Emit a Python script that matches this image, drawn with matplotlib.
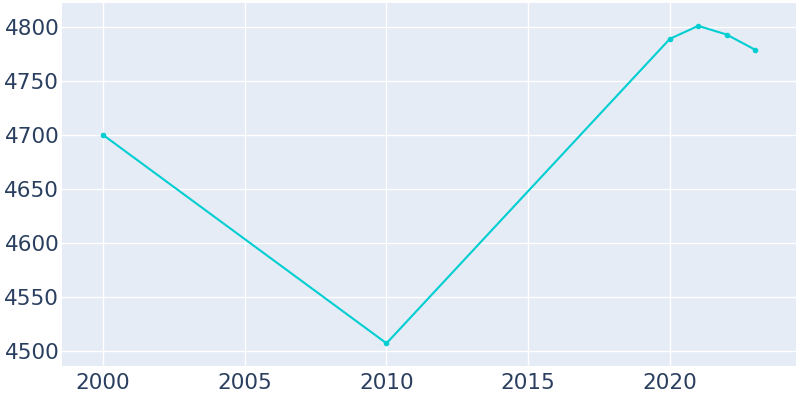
import matplotlib
matplotlib.use("Agg")
import matplotlib.pyplot as plt

# Population by year
years = [2000, 2010, 2020, 2021, 2022, 2023]
population = [4700, 4507, 4789, 4801, 4793, 4779]

x_ticks = [2000, 2005, 2010, 2015, 2020]
y_ticks = [4500, 4550, 4600, 4650, 4700, 4750, 4800]

fig = plt.figure(figsize=(8, 4), dpi=100)
ax = fig.add_axes([0.0775, 0.085, 0.9175, 0.907])
ax.set_facecolor("#E5ECF6")

ax.plot(years, population, color="#00CED1", linewidth=1.5,
        marker="o", markersize=3, zorder=3)

ax.set_xlim(1998.55, 2024.45)
ax.set_ylim(4486, 4822)
ax.set_xticks(x_ticks)
ax.set_yticks(y_ticks)
ax.grid(True, color="white", linewidth=1)
ax.set_axisbelow(True)
for s in ax.spines.values():
    s.set_visible(False)
ax.tick_params(length=0, labelsize=15.5, colors="#2a3f5f")
ax.tick_params(axis="y", pad=2)
ax.tick_params(axis="x", pad=5)

fig.savefig("out.png", dpi=100)
